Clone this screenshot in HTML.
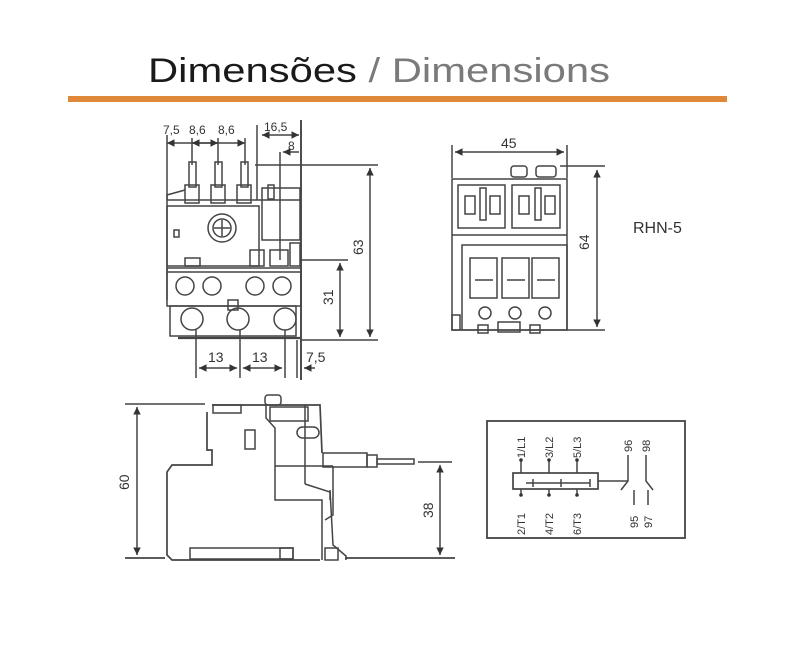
<!DOCTYPE html>
<html><head><meta charset="utf-8"><style>
html,body{margin:0;padding:0;background:#fff;}
svg{display:block;}
text{font-family:"Liberation Sans",sans-serif;fill:#333;}
</style></head><body>
<svg width="800" height="648" viewBox="0 0 800 648" xmlns="http://www.w3.org/2000/svg">
<defs>
<marker id="a" markerWidth="6" markerHeight="6" refX="5" refY="3" orient="auto-start-reverse"><path d="M0,0.5 L5,3 L0,5.5z" fill="#333"/></marker>
</defs>
<rect width="800" height="648" fill="#fff"/>
<text x="148" y="82" font-size="34" textLength="462" lengthAdjust="spacingAndGlyphs"><tspan fill="#1a1a1a">Dimensões </tspan><tspan fill="#7a7a7a">/ Dimensions</tspan></text>
<rect x="68" y="96" width="659" height="6" fill="#e0883a"/>

<g fill="none" stroke="#444" stroke-width="1.5">
<line x1="167" y1="135" x2="167" y2="300"/>
<line x1="192" y1="138" x2="192" y2="165"/>
<line x1="218" y1="138" x2="218" y2="165"/>
<line x1="245" y1="138" x2="245" y2="165"/>
<line x1="167" y1="143" x2="245" y2="143" marker-start="url(#a)" marker-end="url(#a)"/>
<line x1="192" y1="143" x2="218" y2="143" marker-start="url(#a)" marker-end="url(#a)"/>
<line x1="257" y1="125" x2="257" y2="200"/>
<line x1="301" y1="120" x2="301" y2="380" stroke-width="1.9"/>
<line x1="262" y1="135" x2="299" y2="135" marker-start="url(#a)" marker-end="url(#a)"/>
<line x1="280" y1="152" x2="280" y2="260"/>
<line x1="283" y1="152" x2="299" y2="152" marker-start="url(#a)"/>
<rect x="189" y="162" width="7" height="25"/><rect x="215" y="162" width="7" height="25"/><rect x="241" y="162" width="7" height="25"/>
<rect x="185" y="185" width="14" height="18"/><rect x="211" y="185" width="14" height="18"/><rect x="237" y="185" width="14" height="18"/>
<polyline points="167,200 167,195 185,190 M199,190 211,195"/>
<line x1="167" y1="200" x2="300" y2="200"/>
<rect x="167" y="206" width="92" height="60"/>
<circle cx="222" cy="228" r="14"/><circle cx="222" cy="228" r="9"/>
<line x1="214" y1="228" x2="230" y2="228"/><line x1="222" y1="220" x2="222" y2="236"/>
<rect x="174" y="230" width="5" height="7"/>
<rect x="185" y="258" width="15" height="8"/>
<rect x="262" y="188" width="38" height="52"/>
<rect x="268" y="185" width="6" height="14"/>
<rect x="250" y="250" width="14" height="16"/><rect x="270" y="250" width="18" height="16"/><rect x="290" y="243" width="10" height="23"/>
<rect x="167" y="268" width="134" height="38"/>
<line x1="167" y1="272" x2="301" y2="272"/>
<circle cx="185" cy="286" r="9"/><circle cx="212" cy="286" r="9"/><circle cx="255" cy="286" r="9"/><circle cx="282" cy="286" r="9"/>
<rect x="170" y="306" width="126" height="30"/>
<circle cx="192" cy="319" r="11"/><circle cx="238" cy="319" r="11"/><circle cx="285" cy="319" r="11"/>
<rect x="228" y="300" width="10" height="10"/>
<line x1="178" y1="338" x2="300" y2="338" stroke-width="2.2"/>
<line x1="255" y1="165" x2="378" y2="165"/>
<line x1="300" y1="260" x2="348" y2="260"/>
<line x1="300" y1="340" x2="378" y2="340"/>
<line x1="370" y1="168" x2="370" y2="337" marker-start="url(#a)" marker-end="url(#a)"/>
<line x1="340" y1="263" x2="340" y2="337" marker-start="url(#a)" marker-end="url(#a)"/>
<line x1="196" y1="330" x2="196" y2="378"/><line x1="240" y1="330" x2="240" y2="378"/><line x1="285" y1="330" x2="285" y2="378"/><line x1="297" y1="340" x2="297" y2="378"/>
<line x1="199" y1="368" x2="237" y2="368" marker-start="url(#a)" marker-end="url(#a)"/>
<line x1="243" y1="368" x2="282" y2="368" marker-start="url(#a)" marker-end="url(#a)"/>
<line x1="304" y1="368" x2="315" y2="368" marker-start="url(#a)"/>

<line x1="452" y1="145" x2="452" y2="178"/><line x1="567" y1="145" x2="567" y2="178"/>
<line x1="455" y1="152" x2="564" y2="152" marker-start="url(#a)" marker-end="url(#a)"/>
<rect x="511" y="166" width="16" height="11" rx="3"/><rect x="536" y="166" width="20" height="11" rx="3"/>
<line x1="560" y1="166" x2="605" y2="166"/>
<rect x="452" y="179" width="115" height="151"/>
<line x1="452" y1="235" x2="567" y2="235"/>
<rect x="458" y="185" width="47" height="43"/><rect x="512" y="185" width="48" height="43"/>
<rect x="465" y="196" width="10" height="18"/><rect x="490" y="196" width="10" height="18"/><rect x="519" y="196" width="10" height="18"/><rect x="545" y="196" width="10" height="18"/>
<rect x="480" y="188" width="6" height="32"/><rect x="535" y="188" width="6" height="32"/>
<rect x="462" y="245" width="105" height="85"/>
<rect x="470" y="258" width="27" height="40"/><rect x="502" y="258" width="27" height="40"/><rect x="532" y="258" width="27" height="40"/>
<line x1="475" y1="280" x2="493" y2="280"/><line x1="507" y1="280" x2="525" y2="280"/><line x1="537" y1="280" x2="555" y2="280"/>
<circle cx="485" cy="313" r="6"/><circle cx="515" cy="313" r="6"/><circle cx="545" cy="313" r="6"/>
<rect x="452" y="315" width="8" height="15"/>
<rect x="478" y="325" width="10" height="8"/><rect x="498" y="322" width="22" height="10"/><rect x="530" y="325" width="10" height="8"/>
<line x1="567" y1="330" x2="605" y2="330"/>
<line x1="597" y1="170" x2="597" y2="327" marker-start="url(#a)" marker-end="url(#a)"/>

<line x1="125" y1="404" x2="205" y2="404"/>
<line x1="137" y1="407" x2="137" y2="555" marker-start="url(#a)" marker-end="url(#a)"/>
<line x1="125" y1="558" x2="165" y2="558" stroke-width="1.7"/>
<polyline points="212,405 320,405 322,453" stroke-width="1.7"/>
<polyline points="207,412 207,450 212,450 212,465 172,465 167,472 167,555 172,560 320,560" stroke-width="1.7"/>
<rect x="213" y="405" width="28" height="8"/>
<rect x="265" y="395" width="16" height="10" rx="3"/>
<polyline points="266,405 266,418 275,428 275,500 322,500 322,560"/>
<rect x="270" y="407" width="38" height="14"/>
<line x1="305" y1="405" x2="305" y2="484"/>
<rect x="245" y="430" width="10" height="19"/>
<rect x="297" y="427" width="22" height="11" rx="5.5"/>
<rect x="323" y="453" width="44" height="14"/>
<rect x="367" y="455" width="10" height="12"/>
<rect x="377" y="459" width="37" height="5"/>
<line x1="275" y1="466" x2="333" y2="466"/>
<polyline points="305,484 330,492 330,500"/>
<polyline points="333,466 333,515 325,520"/>
<polyline points="330,490 333,545 346,556 346,560"/>
<rect x="325" y="548" width="13" height="12"/>
<rect x="190" y="548" width="103" height="11"/>
<rect x="280" y="548" width="13" height="11"/>
<line x1="345" y1="558" x2="455" y2="558" stroke-width="1.7"/>
<line x1="418" y1="462" x2="452" y2="462"/>
<line x1="440" y1="465" x2="440" y2="555" marker-start="url(#a)" marker-end="url(#a)"/>

<rect x="487" y="421" width="198" height="117" stroke-width="1.8"/>
<rect x="513" y="473" width="85" height="16" stroke-width="1.7"/>
<line x1="521" y1="460" x2="521" y2="473"/><line x1="549" y1="460" x2="549" y2="473"/><line x1="577" y1="460" x2="577" y2="473"/>
<line x1="521" y1="489" x2="521" y2="495"/><line x1="549" y1="489" x2="549" y2="495"/><line x1="577" y1="489" x2="577" y2="495"/>
<line x1="526" y1="483" x2="590" y2="483"/><line x1="533" y1="479" x2="533" y2="487"/><line x1="561" y1="479" x2="561" y2="487"/><line x1="590" y1="479" x2="590" y2="487"/>
<line x1="598" y1="481" x2="628" y2="481"/>
<polyline points="628,455 628,481 621,490"/>
<polyline points="646,455 646,481 653,490"/>
<line x1="634" y1="490" x2="634" y2="505"/><line x1="648" y1="490" x2="648" y2="505"/>
</g>
<g fill="#333">
<circle cx="521" cy="460" r="1.8"/><circle cx="549" cy="460" r="1.8"/><circle cx="577" cy="460" r="1.8"/>
<circle cx="521" cy="495" r="1.8"/><circle cx="549" cy="495" r="1.8"/><circle cx="577" cy="495" r="1.8"/>
</g>

<text x="163" y="134" font-size="12">7,5</text>
<text x="189" y="134" font-size="12">8,6</text>
<text x="218" y="134" font-size="12">8,6</text>
<text x="264" y="131" font-size="12">16,5</text>
<text x="288" y="150" font-size="12">8</text>
<text x="208" y="362" font-size="14">13</text>
<text x="252" y="362" font-size="14">13</text>
<text x="306" y="362" font-size="14">7,5</text>
<text font-size="14" transform="translate(363,255) rotate(-90)">63</text>
<text font-size="14" transform="translate(333,305) rotate(-90)">31</text>
<text x="501" y="148" font-size="14">45</text>
<text font-size="14" transform="translate(589,250) rotate(-90)">64</text>
<text x="633" y="233" font-size="16">RHN-5</text>
<text font-size="14" transform="translate(129,490) rotate(-90)">60</text>
<text font-size="14" transform="translate(433,518) rotate(-90)">38</text>
<g font-size="11">
<text transform="translate(525,458) rotate(-90)">1/L1</text>
<text transform="translate(553,458) rotate(-90)">3/L2</text>
<text transform="translate(581,458) rotate(-90)">5/L3</text>
<text transform="translate(525,535) rotate(-90)">2/T1</text>
<text transform="translate(553,535) rotate(-90)">4/T2</text>
<text transform="translate(581,535) rotate(-90)">6/T3</text>
<text transform="translate(632,452) rotate(-90)">96</text>
<text transform="translate(650,452) rotate(-90)">98</text>
<text transform="translate(638,528) rotate(-90)">95</text>
<text transform="translate(652,528) rotate(-90)">97</text>
</g>
</svg>
</body></html>
